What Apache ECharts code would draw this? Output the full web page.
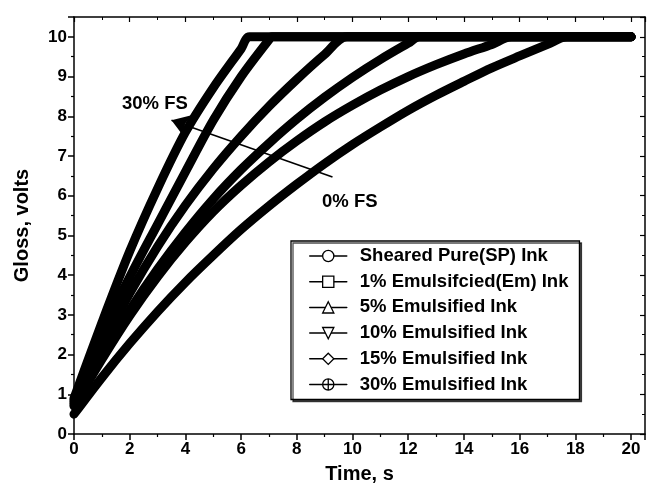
<!DOCTYPE html>
<html>
<head>
<meta charset="utf-8">
<script src="https://cdn.jsdelivr.net/npm/echarts@6/dist/echarts.min.js"></script>
<style>
  html, body { margin: 0; padding: 0; background: #fff; }
  #chart { width: 652px; height: 490px; }
</style>
</head>
<body>
<div id="chart"></div>
<script>
// time (s) and gloss (volts) for each ink
var tSP = [0, 1, 2, 3, 4, 5, 6, 7, 8, 9, 10, 11, 12, 13, 14, 15, 16, 17, 17.7, 20];
var vSP = [0.5, 1.42, 2.28, 3.08, 3.82, 4.5, 5.15, 5.74, 6.29, 6.81, 7.29, 7.73, 8.15, 8.53, 8.88, 9.22, 9.52, 9.81, 10, 10];
var t1 = [0, 1, 2, 3, 4, 5, 6, 7, 8, 9, 10, 11, 12, 13, 14, 15, 15.7, 20];
var v1 = [0.7, 1.88, 2.98, 3.96, 4.83, 5.6, 6.26, 6.85, 7.38, 7.86, 8.28, 8.66, 9.0, 9.3, 9.57, 9.81, 10, 10];
var t5 = [0, 1, 2, 3, 4, 5, 6, 7, 8, 9, 10, 11, 12, 12.4, 20];
var v5 = [0.75, 1.98, 3.12, 4.15, 5.08, 5.92, 6.66, 7.32, 7.93, 8.48, 8.98, 9.43, 9.84, 10, 10];
var t10 = [0, 1, 2, 3, 4, 5, 6, 7, 8, 9, 9.8, 20];
var v10 = [0.8, 2.22, 3.54, 4.72, 5.76, 6.68, 7.5, 8.25, 8.93, 9.56, 10, 10];
var t15 = [0, 1, 2, 3, 4, 5, 6, 7, 7.1, 20];
var v15 = [0.85, 2.5, 3.95, 5.28, 6.6, 7.9, 9.0, 9.93, 10, 10];
var t30 = [0, 1, 2, 3, 4, 5, 6, 6.3, 20];
var v30 = [0.9, 2.8, 4.6, 6.18, 7.6, 8.72, 9.7, 10, 10];

var names = [
  "Sheared Pure(SP) Ink",
  "1% Emulsifcied(Em) Ink",
  "5% Emulsified Ink",
  "10% Emulsified Ink",
  "15% Emulsified Ink",
  "30% Emulsified Ink"
];
var symbols = [
  "circle",
  "rect",
  "triangle",
  "path://M0,0 L10,0 L5,9 Z",
  "diamond",
  "path://M0,5 A5,5 0 1,1 10,5 A5,5 0 1,1 0,5 Z M5,0 L5,10 M0,5 L10,5"
];
var times = [tSP, t1, t5, t10, t15, t30];
var values = [vSP, v1, v5, v10, v15, v30];

// arrow from "0% FS" towards "30% FS" (data coords)
var arrowFrom = [9.28, 6.47];
var arrowTo = [3.5, 7.9];

var font = "'Liberation Sans', Arial, sans-serif";

function pairs(ts, vs) {
  var out = [];
  for (var i = 0; i < ts.length; i++) out.push([ts[i], vs[i]]);
  return out;
}

var series = names.map(function (n, i) {
  return {
    name: n,
    type: "line",
    data: pairs(times[i], values[i]),
    smooth: 0.3,
    showSymbol: false,
    symbol: symbols[i],
    symbolSize: 10,
    itemStyle: { color: "#fff", borderColor: "#000", borderWidth: 1.3 },
    lineStyle: { color: "#000", width: 9, cap: "round", join: "round" },
    emphasis: { disabled: true },
    z: 3
  };
});

series.push({
  type: "line",
  data: [],
  silent: true,
  color: "#000",
  itemStyle: { color: "#000" },
  markLine: {
    silent: true,
    symbol: ["none", "arrow"],
    symbolSize: 18,
    label: { show: false },
    itemStyle: { color: "#000" },
    lineStyle: { color: "#000", width: 1.6, type: "solid" },
    data: [[{ coord: arrowFrom }, { coord: arrowTo }]]
  },
  z: 5
});

var chart = echarts.init(document.getElementById("chart"));
chart.setOption({
  animation: false,
  backgroundColor: "#fff",
  grid: { left: 74, right: 7, top: 17, bottom: 56 },
  xAxis: [
    {
      type: "value",
      min: 0,
      max: 20.5,
      interval: 2,
      name: "Time, s",
      nameLocation: "middle",
      nameGap: 30,
      nameTextStyle: { fontFamily: font, fontWeight: "bold", fontSize: 20, color: "#000" },
      axisLine: { onZero: false, lineStyle: { color: "#000", width: 1.5 } },
      axisTick: { length: 6, lineStyle: { color: "#000", width: 1.5 } },
      minorTick: { show: true, splitNumber: 2, length: 3, lineStyle: { color: "#000", width: 1.2 } },
      axisLabel: {
        showMaxLabel: false,
        margin: 7,
        fontFamily: font, fontWeight: "bold", fontSize: 17, color: "#000",
        formatter: function (v) { return v % 2 === 0 ? String(v) : ""; }
      },
      splitLine: { show: false }
    },
    {
      type: "value",
      position: "top",
      min: 0,
      max: 20.5,
      interval: 2,
      axisLine: { show: true, onZero: false, lineStyle: { color: "#000", width: 1.5 } },
      axisTick: { inside: true, length: 5, lineStyle: { color: "#000", width: 1.2 } },
      minorTick: { show: true, splitNumber: 2, length: 3, lineStyle: { color: "#000", width: 1 } },
      axisLabel: { show: false },
      splitLine: { show: false }
    }
  ],
  yAxis: [
    {
      type: "value",
      min: 0,
      max: 10.5,
      interval: 1,
      name: "Gloss, volts",
      nameLocation: "middle",
      nameGap: 42,
      nameTextStyle: { fontFamily: font, fontWeight: "bold", fontSize: 20, color: "#000" },
      axisLine: { onZero: false, lineStyle: { color: "#000", width: 1.5 } },
      axisTick: { length: 6, lineStyle: { color: "#000", width: 1.5 } },
      minorTick: { show: true, splitNumber: 2, length: 3, lineStyle: { color: "#000", width: 1.2 } },
      axisLabel: {
        showMaxLabel: false,
        margin: 7,
        fontFamily: font, fontWeight: "bold", fontSize: 17, color: "#000"
      },
      splitLine: { show: false }
    },
    {
      type: "value",
      position: "right",
      min: 0,
      max: 10.5,
      interval: 1,
      axisLine: { show: true, onZero: false, lineStyle: { color: "#000", width: 1.5 } },
      axisTick: { inside: true, length: 5, lineStyle: { color: "#000", width: 1.2 } },
      minorTick: { show: true, splitNumber: 2, length: 3, lineStyle: { color: "#000", width: 1 } },
      axisLabel: { show: false },
      splitLine: { show: false }
    }
  ],
  legend: {
    orient: "vertical",
    left: 291,
    top: 241,
    padding: [5, 11, 5, 18],
    itemGap: 5.7,
    itemWidth: 37,
    itemHeight: 14,
    backgroundColor: "#fff",
    borderColor: "#000",
    borderWidth: 1.3,
    shadowColor: "rgba(0,0,0,0.7)",
    shadowOffsetX: 2,
    shadowOffsetY: 2,
    shadowBlur: 0,
    selectedMode: false,
    itemStyle: { color: "#fff", borderColor: "#000", borderWidth: 1.3 },
    lineStyle: { color: "#000", width: 1.5 },
    textStyle: {
      fontFamily: font, fontWeight: "bold", fontSize: 18.5, color: "#000",
      lineHeight: 20, padding: [0, 0, 0, 8]
    },
    data: names
  },
  graphic: [
    {
      type: "text",
      left: 122,
      top: 94,
      style: { text: "30% FS", font: "bold 18.5px " + font, fill: "#000" }
    },
    {
      type: "text",
      left: 322,
      top: 192,
      style: { text: "0% FS", font: "bold 18.5px " + font, fill: "#000" }
    }
  ],
  series: series
});
</script>
</body>
</html>
